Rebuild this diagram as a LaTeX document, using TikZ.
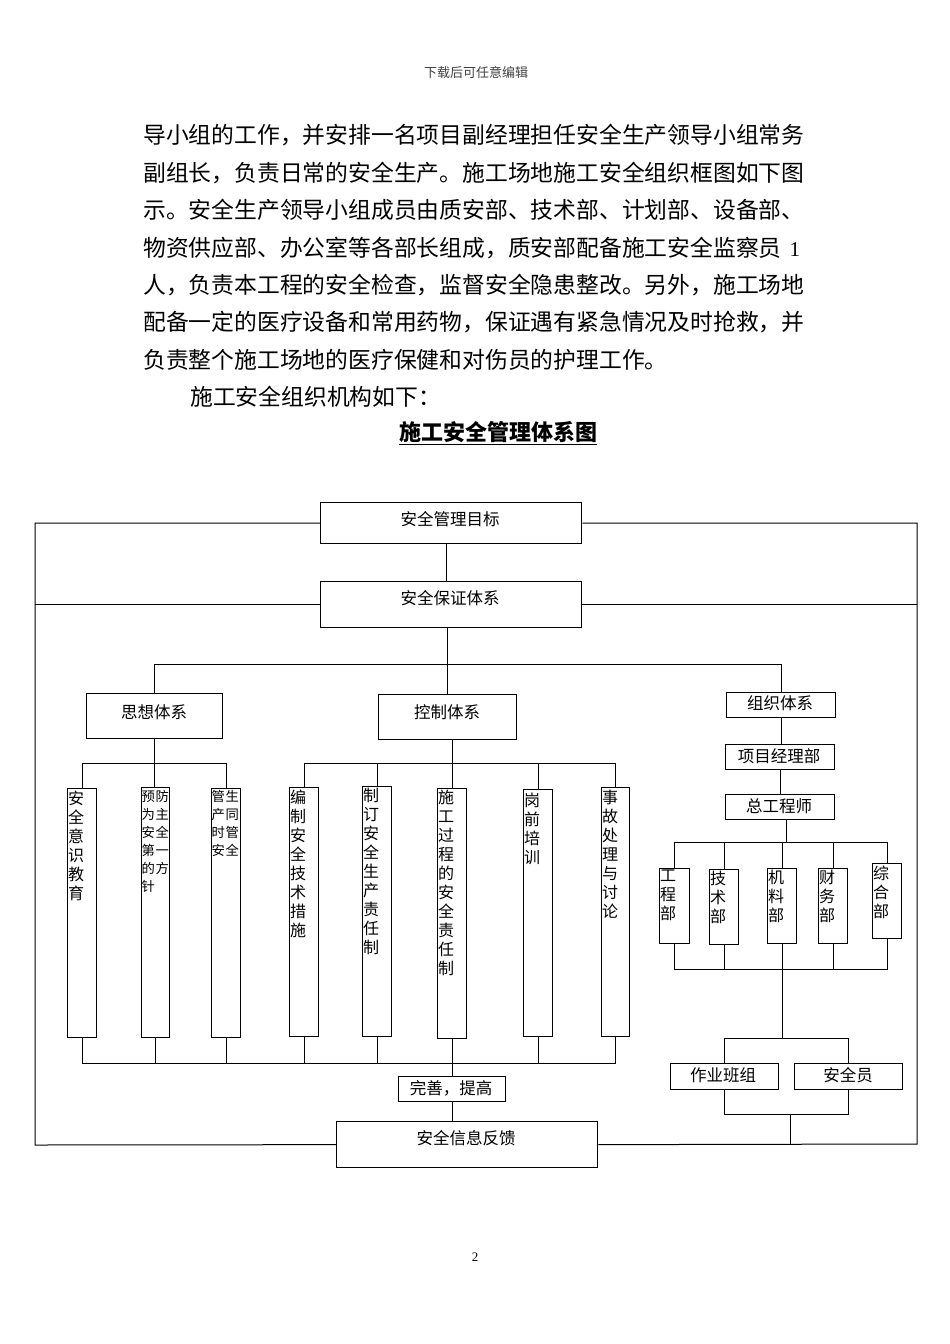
\documentclass[tikz,border=0pt]{standalone}
\usepackage{fontspec}
\setmainfont{Noto Sans CJK SC}
\newfontfamily\serifnum{Liberation Serif}
\begin{document}
\begin{tikzpicture}[x=1pt,y=-1pt,
  bx/.style={draw, line width=1.3pt, inner sep=0pt, anchor=north west},
  ln/.style={line width=1pt},
  lbl/.style={font=\fontsize{16.5}{19}\selectfont, inner sep=0pt},
  vt/.style={font=\fontsize{16}{19}\selectfont, inner sep=0pt, align=left, anchor=north west},
  vs/.style={font=\fontsize{13.3}{18}\selectfont, inner sep=0pt, align=left, anchor=north west},
  para/.style={font=\fontsize{22.8}{24}\selectfont, inner sep=0pt, anchor=west}]
\fill[white] (0,0) rectangle (950,1344);
\useasboundingbox (0,0) rectangle (950,1344);

% header, text, footer
\node[font=\fontsize{13}{15}\selectfont, text=black!75, inner sep=0pt] (hdr) at (476,73) {下载后可任意编辑};
\node[para] (p1) at (143,135) {导小组的工作，并安排一名项目副经理担任安全生产领导小组常务};
\node[para] (p2) at (143,173) {副组长，负责日常的安全生产。施工场地施工安全组织框图如下图};
\node[para] (p3) at (143,210) {示。安全生产领导小组成员由质安部、技术部、计划部、设备部、};
\node[para] (p4) at (143,248) {物资供应部、办公室等各部长组成，质安部配备施工安全监察员\hspace{8pt}{\serifnum\fontsize{21}{24}\selectfont 1}};
\node[para] (p5) at (143,285) {人，负责本工程的安全检查，监督安全隐患整改。另外，施工场地};
\node[para] (p6) at (143,322) {配备一定的医疗设备和常用药物，保证遇有紧急情况及时抢救，并};
\node[para] (p7) at (143,360) {负责整个施工场地的医疗保健和对伤员的护理工作。};
\node[para] (p8) at (190,397) {施工安全组织机构如下：};
\node[font=\fontsize{22}{24}\selectfont\bfseries, inner sep=0pt] (title) at (498,433) {\underline{施工安全管理体系图}};
\node[font=\serifnum\fontsize{13}{15}\selectfont, inner sep=0pt] (pg) at (475,1257) {2};

% main boxes
\node[bx, minimum width=261pt, minimum height=41pt] (goal) at (320,502) {};
\node[lbl] (goalt) at (450,519) {安全管理目标};
\node[bx, minimum width=261pt, minimum height=46pt] (guar) at (320,581) {};
\node[lbl] (guart) at (450,598) {安全保证体系};
\node[bx, minimum width=136pt, minimum height=45pt] (sx) at (86,693) {};
\node[lbl] (sxt) at (154,712) {思想体系};
\node[bx, minimum width=138pt, minimum height=45pt] (kz) at (378,694) {};
\node[lbl] (kzt) at (447,712) {控制体系};
\node[bx, minimum width=109pt, minimum height=25pt] (zz) at (726,692) {};
\node[lbl] (zzt) at (780,703) {组织体系};
\node[bx, minimum width=109pt, minimum height=25pt] (xm) at (725,744) {};
\node[lbl] (xmt) at (779,756) {项目经理部};
\node[bx, minimum width=109pt, minimum height=25pt] (zg) at (725,794) {};
\node[lbl] (zgt) at (779,806) {总工程师};
\node[bx, minimum width=108pt, minimum height=26pt] (zy) at (670,1063) {};
\node[lbl] (zyt) at (723,1075) {作业班组};
\node[bx, minimum width=108pt, minimum height=26pt] (aq) at (794,1063) {};
\node[lbl] (aqt) at (848,1075) {安全员};
\node[bx, minimum width=107pt, minimum height=25pt] (ws) at (398,1076) {};
\node[lbl] (wst) at (451,1088) {完善，提高};
\node[bx, minimum width=261pt, minimum height=46pt] (fk) at (336,1121) {};
\node[lbl] (fkt) at (466,1138) {安全信息反馈};

% narrow column boxes
\node[bx, minimum width=29pt, minimum height=249pt] (c1) at (67,788) {};
\node[vt] (c1t) at (68,791) {安\\全\\意\\识\\教\\育};
\node[bx, minimum width=28pt, minimum height=250pt] (c2) at (141,787) {};
\node[vs] (c2t) at (141.5,790) {预\hspace{0.6pt}防\\为\hspace{0.6pt}主\\安\hspace{0.6pt}全\\第\hspace{0.6pt}一\\的\hspace{0.6pt}方\\针};
\node[bx, minimum width=29pt, minimum height=249pt] (c3) at (211,788) {};
\node[vs] (c3t) at (211.5,790) {管\hspace{0.6pt}生\\产\hspace{0.6pt}同\\时\hspace{0.6pt}管\\安\hspace{0.6pt}全};
\node[bx, minimum width=29pt, minimum height=249pt] (c4) at (289,787) {};
\node[vt] (c4t) at (290,790) {编\\制\\安\\全\\技\\术\\措\\施};
\node[bx, minimum width=29pt, minimum height=250pt] (c5) at (362,786) {};
\node[vt] (c5t) at (363,788) {制\\订\\安\\全\\生\\产\\责\\任\\制};
\node[bx, minimum width=29pt, minimum height=250pt] (c6) at (437,788) {};
\node[vt] (c6t) at (438,790) {施\\工\\过\\程\\的\\安\\全\\责\\任\\制};
\node[bx, minimum width=29pt, minimum height=247pt] (c7) at (523,789) {};
\node[vt] (c7t) at (524,793) {岗\\前\\培\\训};
\node[bx, minimum width=28pt, minimum height=249pt] (c8) at (601,787) {};
\node[vt] (c8t) at (602,790) {事\\故\\处\\理\\与\\讨\\论};

% department boxes
\node[bx, minimum width=30pt, minimum height=75pt] (d1) at (659,868) {};
\node[vt] (d1t) at (660,870) {工\\程\\部};
\node[bx, minimum width=29pt, minimum height=75pt] (d2) at (709,869) {};
\node[vt] (d2t) at (710,871) {技\\术\\部};
\node[bx, minimum width=29pt, minimum height=75pt] (d3) at (767,868) {};
\node[vt] (d3t) at (768,870) {机\\料\\部};
\node[bx, minimum width=29pt, minimum height=75pt] (d4) at (818,868) {};
\node[vt] (d4t) at (819,870) {财\\务\\部};
\node[bx, minimum width=29pt, minimum height=75pt] (d5) at (872,863) {};
\node[vt] (d5t) at (873,866) {综\\合\\部};

% junction coordinates
\coordinate (L1) at (35,523);
\coordinate (L2) at (35,1145);
\coordinate (R1) at (917,523);
\coordinate (R2) at (917,1144);
\coordinate (bus1) at (450,664);
\coordinate (bus2) at (150,763);
\coordinate (bus3) at (450,763);
\coordinate (bus4) at (780,842);
\coordinate (bus5) at (780,969);
\coordinate (bus6) at (780,1038);
\coordinate (bus7) at (790,1114);
\coordinate (bus8) at (450,1063);

% outer feedback loop
\draw[ln] (goal.west) -- (L1) -- (L2) -- (fk.west);
\draw[ln] (goal.east) -- (R1) -- (R2) -- (fk.east);
\draw[ln] (guar.west) -- (guar.west -| L1);
\draw[ln] (guar.east) -- (guar.east -| R1);
\draw[ln] ([xshift=-5pt]goal.south) -- ([xshift=-5pt]goal.south |- guar.north);
\draw[ln] ([xshift=-4pt]guar.south) -- ([xshift=-4pt]guar.south |- kz.north);

% level 2 bus
\draw[ln] (sx.north) -- (sx.north |- bus1) -- (bus1 -| zz.north) -- (zz.north);

% thought system
\draw[ln] (sx.south) -- (sx.south |- c2.north);
\draw[ln] (c1.north) -- (c1.north |- bus2) -- (bus2 -| c3.north) -- (c3.north);

% control system
\draw[ln] (c6.north) -- (c6.north |- kz.south);
\draw[ln] (c4.north) -- (c4.north |- bus3) -- (bus3 -| c8.north) -- (c8.north);
\draw[ln] (c5.north) -- (c5.north |- bus3);
\draw[ln] (c7.north) -- (c7.north |- bus3);

% bottom bus of columns
\draw[ln] (c1.south) -- (c1.south |- bus8) -- (bus8 -| c8.south) -- (c8.south);
\draw[ln] (c2.south) -- (c2.south |- bus8);
\draw[ln] (c3.south) -- (c3.south |- bus8);
\draw[ln] (c4.south) -- (c4.south |- bus8);
\draw[ln] (c5.south) -- (c5.south |- bus8);
\draw[ln] (c7.south) -- (c7.south |- bus8);
\draw[ln] (c6.south) -- (ws.north);
\draw[ln] (ws.south) -- (ws.south |- fk.north);

% organisation system
\draw[ln] (zz.south) -- (zz.south |- xm.north);
\draw[ln] (xm.south) -- (xm.south |- zg.north);
\draw[ln] ([xshift=6pt]zg.south) -- ([xshift=6pt]zg.south |- bus4);
\draw[ln] (d1.north) -- (d1.north |- bus4) -- (bus4 -| d5.north) -- (d5.north);
\draw[ln] (d2.north) -- (d2.north |- bus4);
\draw[ln] (d3.north) -- (d3.north |- bus4);
\draw[ln] (d4.north) -- (d4.north |- bus4);
\draw[ln] (d1.south) -- (d1.south |- bus5) -- (bus5 -| d5.south) -- (d5.south);
\draw[ln] (d2.south) -- (d2.south |- bus5);
\draw[ln] (d4.south) -- (d4.south |- bus5);
\draw[ln] (d3.south) -- (d3.south |- bus6);
\draw[ln] (zy.north) -- (zy.north |- bus6) -- (bus6 -| aq.north) -- (aq.north);
\draw[ln] (zy.south) -- (zy.south |- bus7) -- (bus7 -| aq.south) -- (aq.south);
\draw[ln] (bus7) -- (bus7 |- fk.east);
\end{tikzpicture}
\end{document}
